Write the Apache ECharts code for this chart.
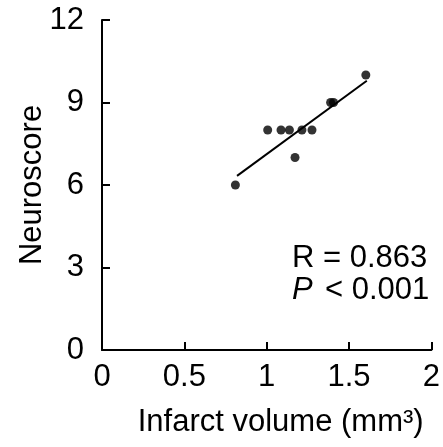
<!DOCTYPE html>
<html>
<head>
<meta charset="utf-8">
<script src="https://cdn.jsdelivr.net/npm/echarts@6/dist/echarts.min.js"></script>
<style>
html,body{margin:0;padding:0;background:#fff;}
#chart{width:443px;height:447px;}
</style>
</head>
<body>
<div id="chart"></div>
<script>
var infarctVolume = [0.81, 1.006, 1.087, 1.138, 1.214, 1.275, 1.172, 1.388, 1.406, 1.602];
var neuroscore    = [6, 8, 8, 8, 8, 8, 7, 9, 9, 10];
var fitX = [0.82, 1.608];
var fitY = [6.33, 9.79];
var xTicks = [0, 0.5, 1, 1.5, 2];
var yTicks = [0, 3, 6, 9, 12];
var statR = 'R = 0.863';
var statP = '< 0.001';

var FONT = '"Liberation Sans", Arial, sans-serif';
var chart = echarts.init(document.getElementById('chart'), null, {renderer: 'canvas'});

var points = infarctVolume.map(function (x, i) { return [x, neuroscore[i]]; });
var fit = fitX.map(function (x, i) { return [x, fitY[i]]; });

chart.setOption({
  animation: false,
  backgroundColor: '#fff',
  grid: {left: 102, right: 10, top: 20, bottom: 97, containLabel: false},
  xAxis: {
    type: 'value', min: 0, max: 2, interval: 0.5,
    name: 'Infarct volume (mm³)', nameLocation: 'middle', nameGap: 57,
    nameMoveOverlap: false,
    nameTextStyle: {fontFamily: FONT, fontSize: 31, color: '#000', padding: [0, 0, 0, 28]},
    axisLine: {show: true, onZero: false, lineStyle: {color: '#000', width: 2}},
    axisTick: {show: true, inside: true, length: 8, lineStyle: {color: '#000', width: 2}},
    axisLabel: {fontFamily: FONT, fontSize: 31, color: '#000', margin: 12,
      formatter: function (v) { return xTicks.indexOf(v) >= 0 ? String(v) : ''; }},
    splitLine: {show: false}
  },
  yAxis: {
    type: 'value', min: 0, max: 12, interval: 3,
    name: 'Neuroscore', nameLocation: 'middle', nameGap: 54, nameRotate: 90,
    nameMoveOverlap: false,
    nameTextStyle: {fontFamily: FONT, fontSize: 31, color: '#000'},
    axisLine: {show: true, onZero: false, lineStyle: {color: '#000', width: 2}},
    axisTick: {show: true, inside: true, length: 8, lineStyle: {color: '#000', width: 2}},
    axisLabel: {fontFamily: FONT, fontSize: 31, color: '#000', margin: 18,
      formatter: function (v) { return yTicks.indexOf(v) >= 0 ? String(v) : ''; }},
    splitLine: {show: false}
  },
  series: [
    {type: 'line', data: fit, symbol: 'none', lineStyle: {color: '#000', width: 2}, z: 2, silent: true},
    {type: 'scatter', data: points, symbol: 'circle', symbolSize: 9, itemStyle: {color: '#000'}, z: 3}
  ],
  graphic: [
    {type: 'text', left: 292, top: 243, style: {text: statR, font: '31px ' + FONT, fill: '#000'}},
    {type: 'group', left: 292, top: 275, children: [
      {type: 'text', left: 0, top: 0, style: {text: 'P', font: 'italic 31px ' + FONT, fill: '#000'}},
      {type: 'text', left: 33, top: 0, style: {text: statP, font: '31px ' + FONT, fill: '#000'}}
    ]}
  ]
});
</script>
</body>
</html>
